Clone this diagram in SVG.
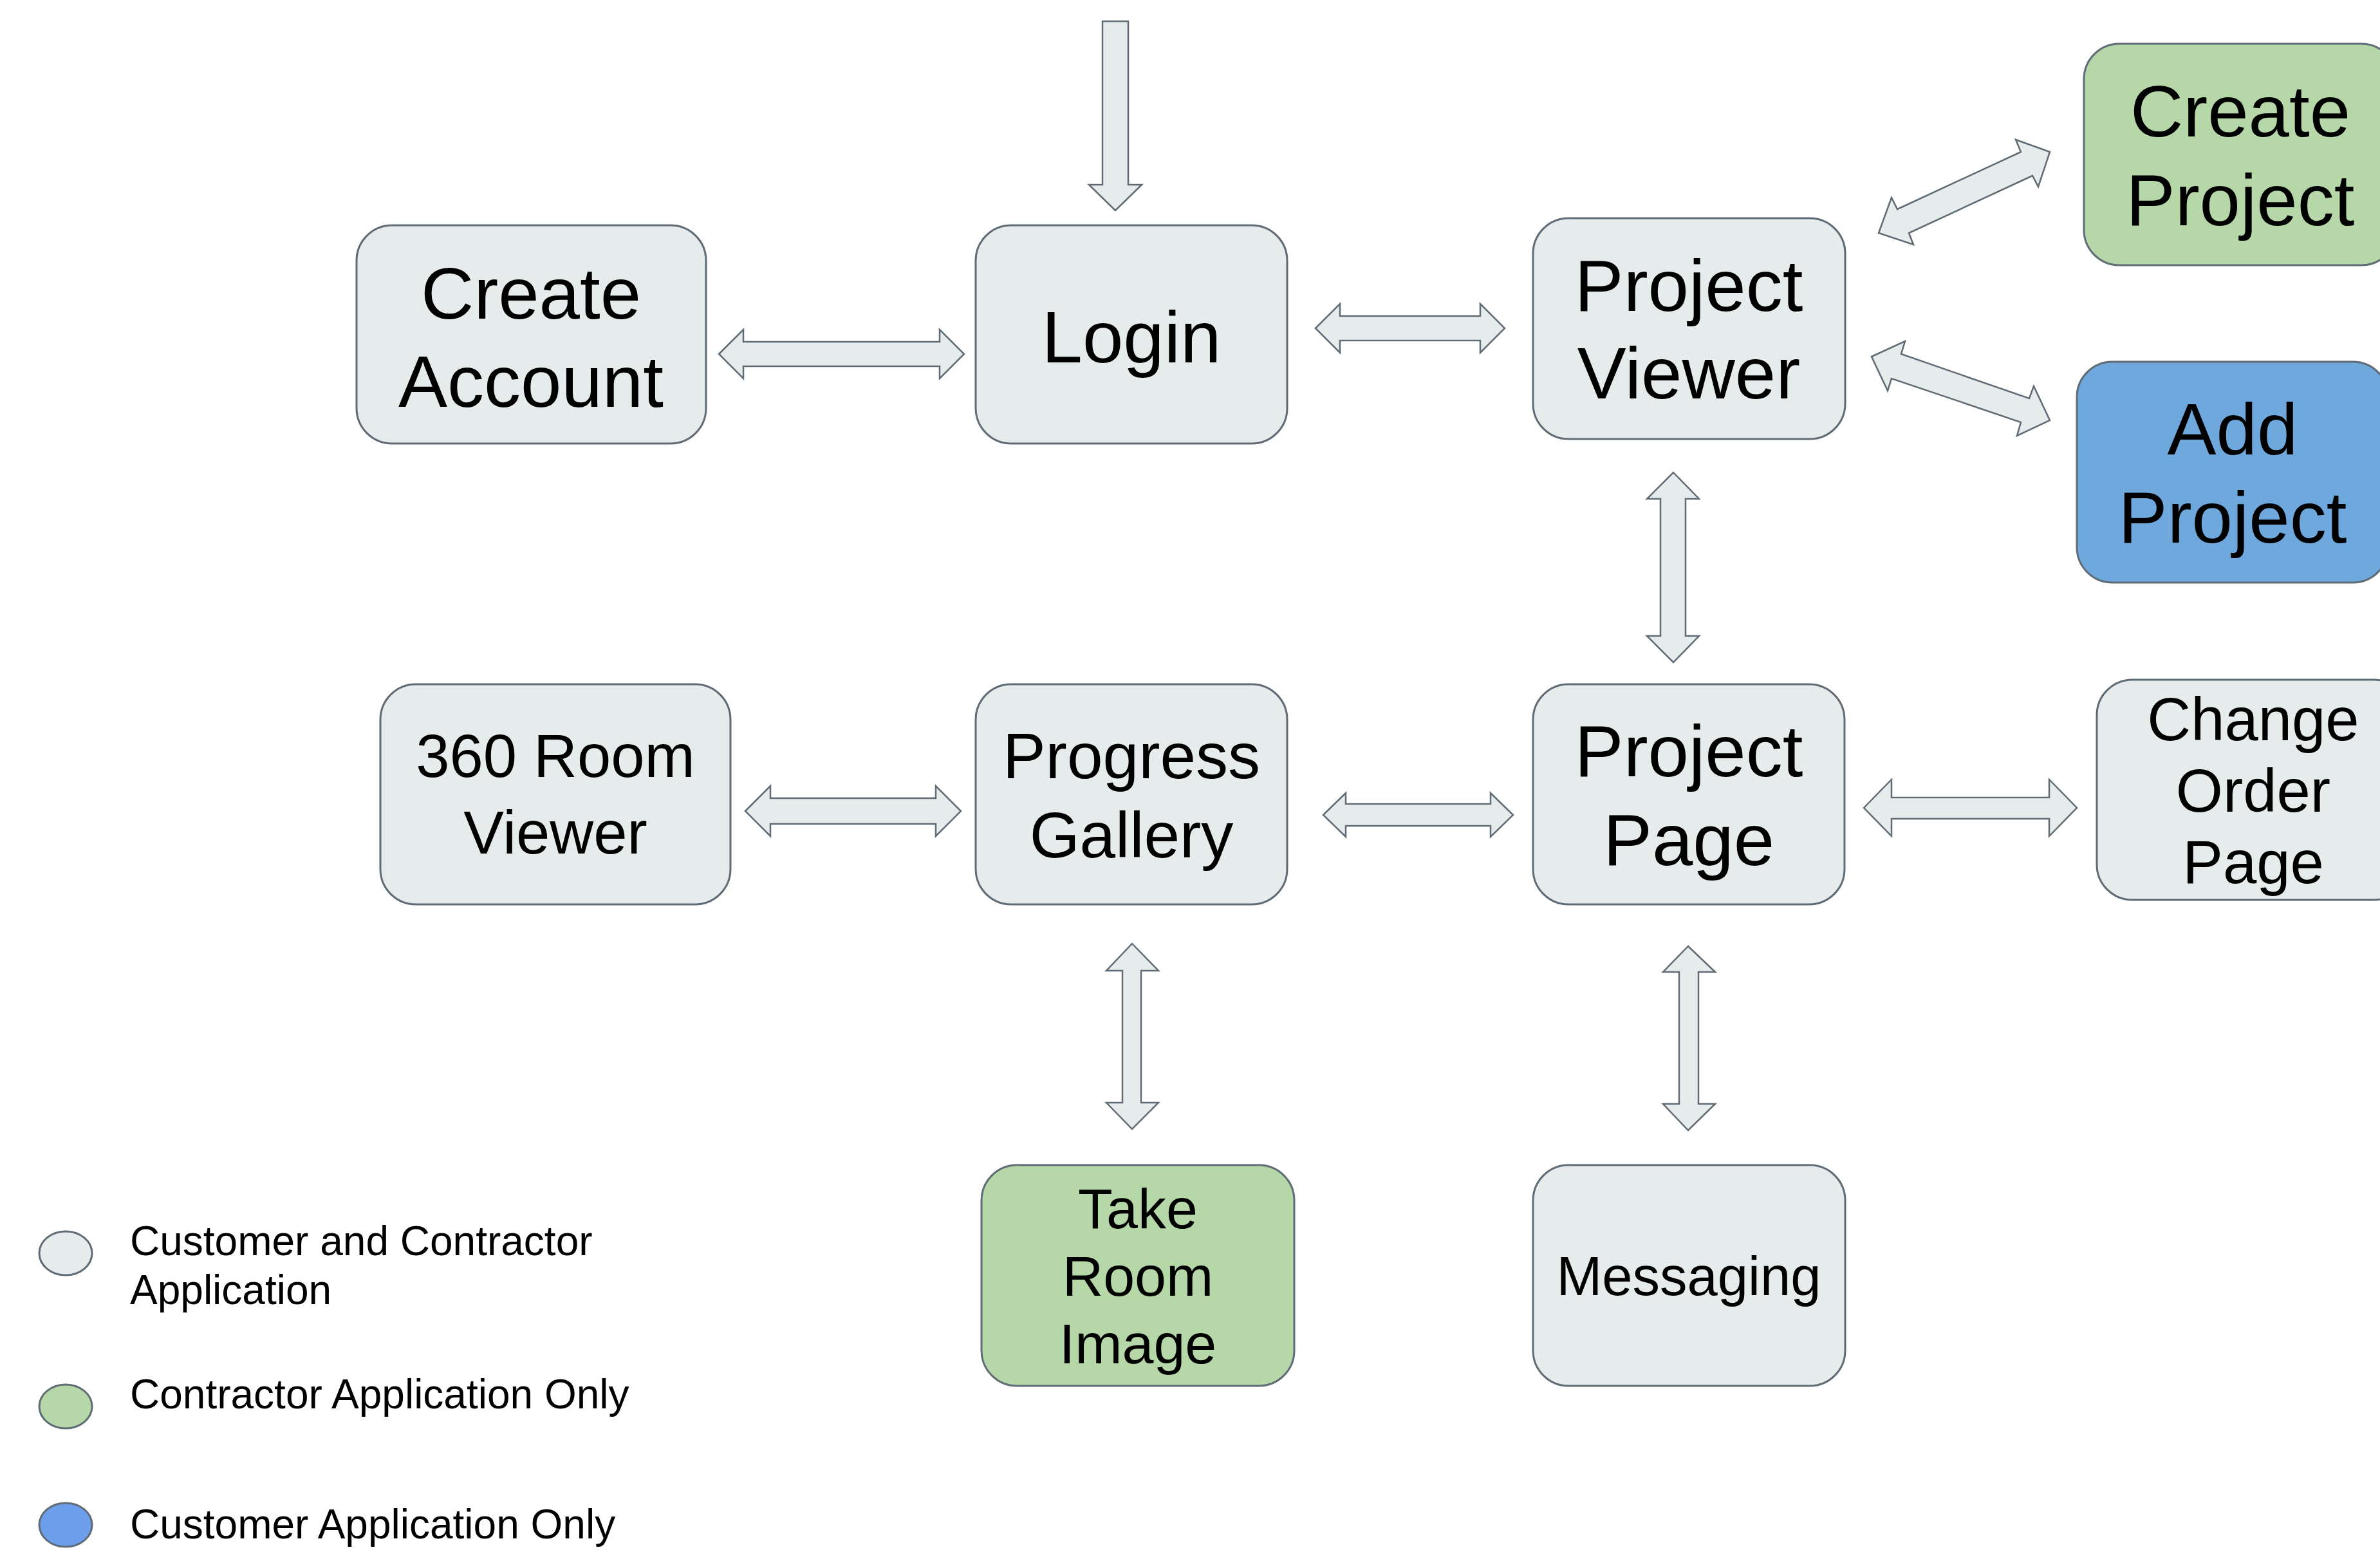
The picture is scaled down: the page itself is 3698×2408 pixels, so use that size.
<svg xmlns="http://www.w3.org/2000/svg" width="3698" height="2408" viewBox="0 0 3698 2408">
<style>
.box{stroke:#5f6b75;stroke-width:3}
.gray{fill:#e6ecec}
.green{fill:#b6d7a8}
.blue{fill:#6fa8dc}
.arr{fill:#e6ecec;stroke:#5f6b75;stroke-width:2.5;stroke-linejoin:miter}
text{font-family:"Liberation Sans",Arial,sans-serif;fill:#000;text-anchor:middle}
.leg{text-anchor:start;font-size:64px}
</style>
<rect width="3698" height="2408" fill="#ffffff"/>
<g id="connectors">
<polygon class="arr" points="1713,33 1753,33 1753,287 1774,287 1733,327 1692,287 1713,287"/>
<polygon class="arr" points="1117,550 1155,512 1155,531 1460,531 1460,512 1498,550 1460,588 1460,569 1155,569 1155,588"/>
<polygon class="arr" points="2044,510 2082,472 2082,491 2300,491 2300,472 2338,510 2300,548 2300,529 2082,529 2082,548"/>
<polygon class="arr" points="2919,362 2939,307 2948,325 3140,236 3132,217 3185,236 3167,290 3158,273 2966,362 2973,380"/>
<polygon class="arr" points="2908,554 2960,530 2954,550 3153,619 3160,600 3185,653 3134,677 3140,656 2939,588 2933,607"/>
<polygon class="arr" points="2600,734 2640,775 2619,775 2619,988 2640,988 2600,1029 2559,988 2580,988 2580,775 2559,775"/>
<polygon class="arr" points="1158,1260 1197,1221 1197,1240 1454,1240 1454,1221 1493,1260 1454,1299 1454,1280 1197,1280 1197,1299"/>
<polygon class="arr" points="2056,1266 2091,1232 2091,1249 2316,1249 2316,1232 2351,1266 2316,1300 2316,1283 2091,1283 2091,1300"/>
<polygon class="arr" points="2896,1255 2939,1211 2939,1239 3184,1239 3184,1211 3227,1255 3184,1299 3184,1272 2939,1272 2939,1299"/>
<polygon class="arr" points="1759,1466 1800,1508 1773,1508 1773,1713 1800,1713 1759,1754 1719,1713 1744,1713 1744,1508 1719,1508"/>
<polygon class="arr" points="2623,1470 2665,1510 2639,1510 2639,1715 2665,1715 2623,1756 2584,1715 2609,1715 2609,1510 2584,1510"/>
</g>
<g id="create-account">
<rect class="box gray" x="554" y="350" width="543" height="339" rx="55"/>
<text font-size="114"><tspan x="825" y="495">Create</tspan><tspan x="825" y="632">Account</tspan></text>
</g>
<g id="login">
<rect class="box gray" x="1516" y="350" width="484" height="339" rx="55"/>
<text font-size="114" x="1758" y="563">Login</text>
</g>
<g id="project-viewer">
<rect class="box gray" x="2382" y="339" width="485" height="343" rx="55"/>
<text font-size="114"><tspan x="2624" y="483">Project</tspan><tspan x="2624" y="619">Viewer</tspan></text>
</g>
<g id="create-project">
<rect class="box green" x="3238" y="68" width="486" height="344" rx="55"/>
<text font-size="114"><tspan x="3481" y="212">Create</tspan><tspan x="3481" y="350">Project</tspan></text>
</g>
<g id="add-project">
<rect class="box blue" x="3227" y="562" width="484" height="343" rx="55"/>
<text font-size="114"><tspan x="3469" y="706">Add</tspan><tspan x="3469" y="843">Project</tspan></text>
</g>
<g id="room-viewer">
<rect class="box gray" x="591" y="1063" width="544" height="342" rx="55"/>
<text font-size="94"><tspan x="863" y="1207">360 Room</tspan><tspan x="863" y="1326">Viewer</tspan></text>
</g>
<g id="progress-gallery">
<rect class="box gray" x="1516" y="1063" width="484" height="342" rx="55"/>
<text font-size="100"><tspan x="1758" y="1209">Progress</tspan><tspan x="1758" y="1332">Gallery</tspan></text>
</g>
<g id="project-page">
<rect class="box gray" x="2382" y="1063" width="484" height="342" rx="55"/>
<text font-size="114"><tspan x="2624" y="1206">Project</tspan><tspan x="2624" y="1344">Page</tspan></text>
</g>
<g id="change-order-page">
<rect class="box gray" x="3258" y="1056" width="486" height="342" rx="55"/>
<text font-size="94"><tspan x="3501" y="1150">Change</tspan><tspan x="3501" y="1261">Order</tspan><tspan x="3501" y="1372">Page</tspan></text>
</g>
<g id="take-room-image">
<rect class="box green" x="1525" y="1810" width="486" height="343" rx="55"/>
<text font-size="88"><tspan x="1768" y="1908">Take</tspan><tspan x="1768" y="2013">Room</tspan><tspan x="1768" y="2118">Image</tspan></text>
</g>
<g id="messaging">
<rect class="box gray" x="2382" y="1810" width="485" height="343" rx="55"/>
<text font-size="85" x="2624" y="2012">Messaging</text>
</g>
<g id="legend">
<ellipse class="box gray" cx="102" cy="1947" rx="41" ry="34"/>
<text class="leg"><tspan x="202" y="1950">Customer and Contractor</tspan><tspan x="202" y="2026">Application</tspan></text>
<ellipse class="box green" cx="102" cy="2185" rx="41" ry="34"/>
<text class="leg" x="202" y="2188">Contractor Application Only</text>
<ellipse class="box" fill="#6d9eeb" cx="102" cy="2369" rx="41" ry="34"/>
<text class="leg" x="202" y="2390">Customer Application Only</text>
</g>
</svg>
